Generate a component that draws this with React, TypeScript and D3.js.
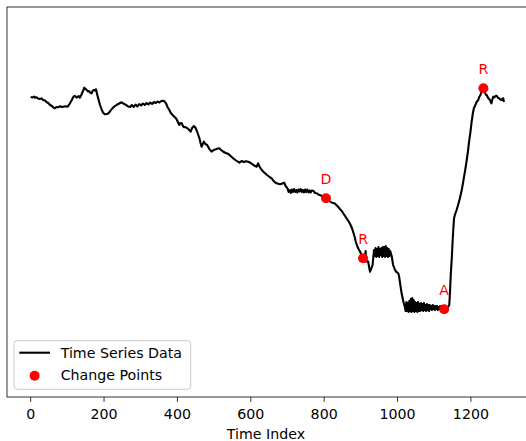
import * as d3 from "d3"
import React from "react"

// [time index, level]
const seriesPoints: [number, number][] = [
  [0,300],[5,299.5],[9,300.5],[12,299.3],[16,299.8],[20,298.5],[25,298],[30,298.6],[34,297],[39,296.5],[44,294.7],[48,294],
  [53,292],[58,291],[62,289.5],[66,288.7],[70,290],[75,289.7],[80,290.8],[85,290],[89,290.3],[95,290.8],[101,290.3],[106,293],
  [112,297],[117,300.5],[121,301],[125,299.5],[128,300],[131,301],[134,299.3],[138,302],[141,304.7],[144,307],[146,309.3],[150,308],
  [153,307],[156,305.5],[159,306],[162,304.5],[166,303.7],[169,306],[171,307],[175,306.5],[178,307.7],[181,303],[184,298.7],[189,292],
  [194,287],[198,284],[203,282.7],[208,283],[212,283.7],[217,286],[221,288],[228,290.5],[234,292],[241,293.5],[248,294.7],[252,293.5],
  [257,292.7],[262,291.5],[266,290.5],[271,290],[276,292],[281,290],[286,292.5],[291,290.5],[296,293],[301,291.5],[306,293.5],[311,292],
  [316,294],[321,292.5],[326,294.5],[331,293],[336,295],[341,294],[346,295.5],[351,294.5],[356,296],[361,296.3],[365,295.5],[369,293.7],
  [373,290],[378,287],[382,284],[387,282],[391,280.5],[396,278.7],[400,276],[405,272],[408,274],[412,273.7],[415,271],[418,269.7],
  [422,270],[427,268.7],[431,267.5],[436,265.3],[440,269],[445,271],[449,269.5],[452,267],[456,263],[460,258.7],[463,254],[466,250.3],
  [469,253],[472,255.3],[476,253],[481,252],[487,248],[493,245.3],[499,247],[505,247.7],[510,248.5],[514,248.7],[519,247],[525,245.3],
  [532,244],[539,243],[545,241],[552,238.7],[560,236.5],[569,234.3],[575,236],[581,235],[587,235.8],[593,235.3],[600,234],[607,232],
  [612,231],[616,230.3],[620,233.7],[623,231],[627,228.5],[630,227],[635,225],[639,223.7],[644,222],[648,221],[653,219.5],[657,218.7],
  [661,216.5],[666,214.7],[672,213.5],[680,212.7],[686,213.5],[691,214.3],[695,211],[700,208.7],[703,205],[706,207],[709,204],[712,207.5],
  [715,205],[718,208],[721,205],[724,207],[727,204.5],[730,207.5],[733,205.5],[736,208],[739,205],[742,207],[745,204.5],[748,207.5],
  [751,205],[754,207.5],[757,204.5],[760,206.5],[763,204.5],[766,206.5],[770,206.3],[775,204],[780,203.7],[784,202.5],[788,202],[794,201],
  [800,200.3],[805,198.7],[812,196.5],[820,194.5],[829,193.5],[836,191],[843,188],[848,186],[852,183.7],[857,181],[861,178.7],[867,175.5],
  [872,172],[876,168.5],[879,165.3],[882,161.5],[884,158.7],[886,155.5],[889,152],[893,148.5],[898,145.3],[902,142],[906,138.7],[910,136.5],
  [913,146],[914,135.3],[917,136],[920,135.3],[923,129],[925,125.3],[928,128],[932,132],[934,140],
  [936,147],[938,141],[940,149],[942,140],[944,148],[946,141],[948,150],[950,140],[952,148],[954,142],[956,149],[958,140],
  [960,150],[962,141],[964,150],[966,140],[968,151],[970,141],[972,149],[974,140],[976,148],[978,141],[980,146],
  [984,141],[988,132],[992,128],[996,125.3],[1002,123.7],[1004,121],[1007,113.7],[1011,103.7],[1016,95.3],
  [1020,90],[1022,86],[1024,95],[1026,86],[1028,94],[1030,85],[1032,96],[1034,86],[1036,98],[1038,85],[1040,99],[1042,86],
  [1044,97],[1046,85],[1048,95],[1050,86],[1052,94],[1054,85],[1056,95],[1058,86],[1060,93],[1062,86],[1064,94],[1066,87],
  [1068,93],[1070,86],[1072,94],[1074,87],[1076,92],[1078,86],[1080,93],[1082,87],[1084,92],[1086,86],[1088,92],[1090,88],
  [1092,91],[1094,87],[1096,92],[1098,88],[1100,91],[1102,87],[1104,91],[1106,88],[1108,91],[1110,87],[1112,90],[1114,88],
  [1116,91],[1118,87],[1120,90],[1122,88],[1124,90],[1127,87.7],[1130,90],[1133,88],[1137,89.5],[1141,92],
  [1143,105],[1145,122],[1148,140],[1150,155.3],[1152,168],[1154,178.7],[1157,183],[1161,187],[1165,192],[1170,198.7],[1175,207],
  [1179,215.3],[1184,226],[1188,235.3],[1192,246],[1195,255.3],[1199,266],[1202,275.3],[1205,283],[1208,288.7],[1212,292],[1216,295.3],
  [1220,297],[1223,300.3],[1226,302],[1229,305.3],[1234,308.7],[1238,305],[1241,302],[1243,302],[1247,299],[1252,297],[1254,295],
  [1256,293.7],[1258,297],[1261,300.3],[1264,299.5],[1267,301],[1270,301.3],[1273,299.5],[1277,298.7],[1280,297.5],[1284,297],
  [1286,298.5],[1288,298.7],[1290,295]
]

const changePointIndex = [805, 906, 1127, 1234]
const changePointLabels = ["D", "R", "A", "R"]
const xTickValues = [0, 200, 400, 600, 800, 1000, 1200]

const font = "DejaVu Sans"
const fs = 14.2

export default function App() {
  const W = 526
  const H = 441
  const left = 7
  const right = 527.6
  const top = 7
  const bottom = 397

  const xMax = d3.max(seriesPoints, d => d[0])!
  const pad = xMax * 0.05
  const xScale = d3.scaleLinear().domain([-pad, xMax + pad]).range([left, right])
  const yScale = d3.scaleLinear().domain([0, 390]).range([bottom, top])

  const line = d3.line<[number, number]>()
    .x(d => xScale(d[0]))
    .y(d => yScale(d[1]))(seriesPoints)

  const lookup = new Map(seriesPoints.map(p => [p[0], p[1]]))
  const cps = changePointIndex.map((t, i) => ({ t, v: lookup.get(t)!, label: changePointLabels[i] }))

  return (
    <svg width={W} height={H} style={{ position: "absolute", left: 0, top: 0, background: "#fff" }} fontFamily={font}>
      <defs>
        <clipPath id="plotClip">
          <rect x={left} y={top} width={right - left} height={bottom - top} />
        </clipPath>
      </defs>
      <g clipPath="url(#plotClip)">
        <path d={line!} fill="none" stroke="#000" strokeWidth={2.1} strokeLinejoin="round" />
        {cps.map((c, i) => (
          <circle key={i} cx={xScale(c.t)} cy={yScale(c.v)} r={5} fill="#ff0000" />
        ))}
        {cps.map((c, i) => (
          <text key={i} x={xScale(c.t)} y={yScale(c.v) - 14} fontSize={fs} fill="#ff0000" textAnchor="middle">
            {c.label}
          </text>
        ))}
      </g>
      <rect x={left} y={top} width={right - left} height={bottom - top} fill="none" stroke="#000" strokeWidth={0.8} />
      {xTickValues.map(t => (
        <g key={t} transform={`translate(${xScale(t)},0)`}>
          <line y1={bottom} y2={bottom + 4.9} stroke="#000" strokeWidth={0.8} />
          <text y={418.5} fontSize={fs} textAnchor="middle" fill="#000">{t}</text>
        </g>
      ))}
      <text x={266} y={439} fontSize={fs} textAnchor="middle" fill="#000">Time Index</text>
      <g>
        <rect x={14} y={340.7} width={176.7} height={48.6} rx={3} fill="#fff" fillOpacity={0.8} stroke="#cccccc" strokeWidth={1} />
        <line x1={19.3} x2={50} y1={352.7} y2={352.7} stroke="#000" strokeWidth={2.1} />
        <text x={60.7} y={357.8} fontSize={fs} fill="#000">Time Series Data</text>
        <circle cx={34.6} cy={375.7} r={5} fill="#ff0000" />
        <text x={60.7} y={379.8} fontSize={fs} fill="#000">Change Points</text>
      </g>
    </svg>
  )
}
